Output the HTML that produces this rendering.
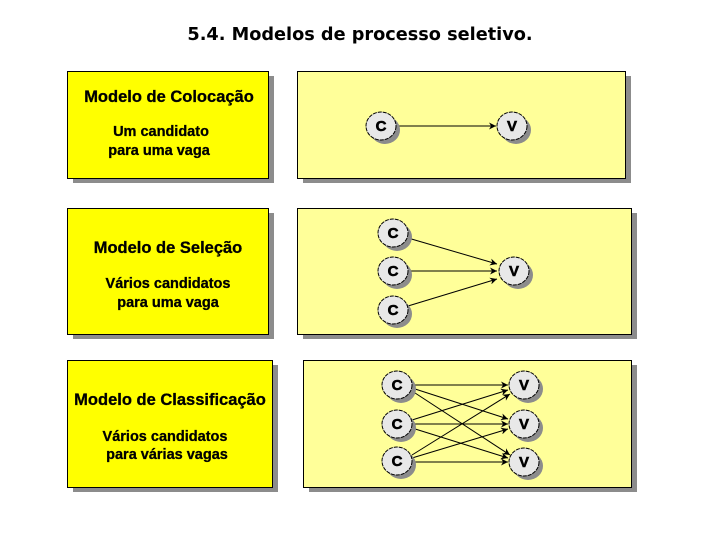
<!DOCTYPE html>
<html><head><meta charset="utf-8"><style>
html,body{margin:0;padding:0;background:#fff;}
svg{display:block;}
text{font-family:"Liberation Sans",Arial,sans-serif;font-weight:bold;}
</style></head><body>
<svg width="720" height="540" viewBox="0 0 720 540" xmlns="http://www.w3.org/2000/svg">
<defs>
<marker id="a" viewBox="0 0 10 10" refX="10" refY="5" markerWidth="7" markerHeight="7" orient="auto" markerUnits="userSpaceOnUse">
<path d="M0,0 L10,5 L0,10 L3,5 z" fill="#000"/></marker>
</defs>
<text x="360" y="40" text-anchor="middle" font-size="17.7" style="font-family:'DejaVu Sans',Verdana,sans-serif;font-weight:bold">5.4. Modelos de processo seletivo.</text>

<g fill="#8c8c8c">
<rect x="73" y="76" width="201" height="107"/>
<rect x="303" y="76" width="328" height="107"/>
<rect x="73" y="213" width="201" height="126"/>
<rect x="303" y="213" width="334" height="126"/>
<rect x="73" y="365" width="205" height="127"/>
<rect x="309" y="365" width="328" height="127"/>
</g>
<g stroke="#000" stroke-width="1">
<rect x="67.5" y="71.5" width="201" height="107" fill="#ffff00"/>
<rect x="297.5" y="71.5" width="328" height="107" fill="#ffff99"/>
<rect x="67.5" y="208.5" width="201" height="126" fill="#ffff00"/>
<rect x="297.5" y="208.5" width="334" height="126" fill="#ffff99"/>
<rect x="67.5" y="360.5" width="205" height="127" fill="#ffff00"/>
<rect x="303.5" y="360.5" width="328" height="127" fill="#ffff99"/>
</g>

<g font-size="16.5" text-anchor="middle" stroke="#000" stroke-width="0.3">
<text x="169" y="102">Modelo de Colocação</text>
<text x="161" y="136" font-size="14.5">Um candidato</text>
<text x="159" y="155" font-size="14.5">para uma vaga</text>
<text x="168" y="253">Modelo de Seleção</text>
<text x="168" y="288" font-size="14.5">Vários candidatos</text>
<text x="168" y="307" font-size="14.5">para uma vaga</text>
<text x="170" y="405">Modelo de Classificação</text>
<text x="165" y="441" font-size="14.5">Vários candidatos</text>
<text x="167" y="459" font-size="14.5">para várias vagas</text>
</g>

<g stroke="#000" stroke-width="1" marker-end="url(#a)">
<line x1="396" y1="126" x2="496" y2="126"/>
<line x1="408" y1="238" x2="497" y2="264"/>
<line x1="408" y1="271" x2="497" y2="271"/>
<line x1="408" y1="306" x2="497" y2="279"/>
<line x1="412" y1="385" x2="508" y2="385"/>
<line x1="412" y1="388" x2="508" y2="419"/>
<line x1="412" y1="391" x2="510" y2="455"/>
<line x1="412" y1="420" x2="508" y2="390"/>
<line x1="412" y1="424" x2="508" y2="424"/>
<line x1="412" y1="428" x2="508" y2="458"/>
<line x1="412" y1="455" x2="510" y2="394"/>
<line x1="412" y1="458" x2="508" y2="429"/>
<line x1="412" y1="462" x2="508" y2="462"/>
</g>

<g>
<g fill="#8c8c8c">
<ellipse cx="385" cy="130" rx="15" ry="14"/>
<ellipse cx="516" cy="130" rx="15" ry="14"/>
<ellipse cx="397" cy="237" rx="15" ry="14"/>
<ellipse cx="397" cy="275" rx="15" ry="14"/>
<ellipse cx="397" cy="314" rx="15" ry="14"/>
<ellipse cx="518" cy="275" rx="15" ry="14"/>
<ellipse cx="401" cy="389" rx="15" ry="14"/>
<ellipse cx="401" cy="428" rx="15" ry="14"/>
<ellipse cx="401" cy="465" rx="15" ry="14"/>
<ellipse cx="528" cy="389" rx="15" ry="14"/>
<ellipse cx="528" cy="428" rx="15" ry="14"/>
<ellipse cx="528" cy="466" rx="15" ry="14"/>
</g>
<g fill="#e8e8e8" stroke="#000" stroke-width="1" stroke-dasharray="4,1">
<ellipse cx="381" cy="126" rx="15" ry="14"/>
<ellipse cx="512" cy="126" rx="15" ry="14"/>
<ellipse cx="393" cy="233" rx="15" ry="14"/>
<ellipse cx="393" cy="271" rx="15" ry="14"/>
<ellipse cx="393" cy="310" rx="15" ry="14"/>
<ellipse cx="514" cy="271" rx="15" ry="14"/>
<ellipse cx="397" cy="385" rx="15" ry="14"/>
<ellipse cx="397" cy="424" rx="15" ry="14"/>
<ellipse cx="397" cy="461" rx="15" ry="14"/>
<ellipse cx="524" cy="385" rx="15" ry="14"/>
<ellipse cx="524" cy="424" rx="15" ry="14"/>
<ellipse cx="524" cy="462" rx="15" ry="14"/>
</g>
<g font-size="15" text-anchor="middle" stroke="#000" stroke-width="0.6" style="font-family:'DejaVu Sans',sans-serif;font-weight:bold">
<text x="381" y="131">C</text>
<text x="512" y="131">V</text>
<text x="393" y="238">C</text>
<text x="393" y="276">C</text>
<text x="393" y="315">C</text>
<text x="514" y="276">V</text>
<text x="397" y="390">C</text>
<text x="397" y="429">C</text>
<text x="397" y="466">C</text>
<text x="524" y="390">V</text>
<text x="524" y="429">V</text>
<text x="524" y="467">V</text>
</g>
</g>
</svg>
</body></html>
